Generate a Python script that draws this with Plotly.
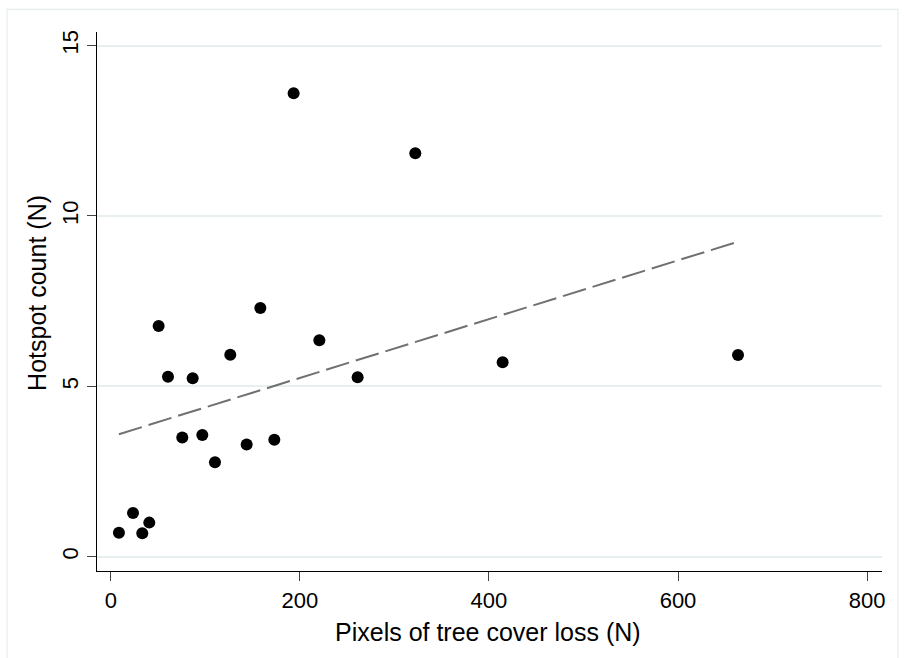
import numpy as np
import plotly.graph_objects as go

# Observations: pixels of tree cover loss vs. hotspot count
loss_pixels = [8.6, 23.5, 33.3, 40.7, 50.6, 60.5, 75.6, 86.6, 96.8, 110.2,
               126.4, 143.7, 158.2, 173.0, 193.4, 220.6, 261.1, 322.1, 414.5, 663.5]
hotspots = [0.70, 1.28, 0.69, 1.00, 6.77, 5.28, 3.50, 5.24, 3.57, 2.77,
            5.93, 3.29, 7.30, 3.43, 13.60, 6.35, 5.27, 11.84, 5.71, 5.92]

# Linear fit line (intercept, slope)
fit_intercept = 3.52
fit_slope = 0.00863

x_ticks = [0, 200, 400, 600, 800]
y_ticks = [0, 5, 10, 15]

x_title = "Pixels of tree cover loss (N)"
y_title = "Hotspot count (N)"

FONT = "Liberation Sans, Arial, Helvetica, sans-serif"

fit_x = np.array([min(loss_pixels), max(loss_pixels)])
fit_y = fit_intercept + fit_slope * fit_x

fig = go.Figure()
fig.add_trace(go.Scatter(
    x=fit_x, y=fit_y, mode="lines",
    line=dict(color="#707070", width=2, dash="24px,7px"),
    showlegend=False, hoverinfo="skip",
))
fig.add_trace(go.Scatter(
    x=loss_pixels, y=hotspots, mode="markers",
    marker=dict(color="black", size=12, line=dict(width=0)),
    showlegend=False,
))

fig.update_layout(
    width=904, height=658,
    margin=dict(l=97, r=22, t=32, b=87),
    paper_bgcolor="white", plot_bgcolor="white",
    font=dict(family=FONT, color="black", size=22),
    xaxis=dict(
        range=[-14.6, 815.8],
        tickmode="array", tickvals=x_ticks, ticktext=[str(v) for v in x_ticks],
        showgrid=False, zeroline=False,
        showline=True, linecolor="black", linewidth=1.3,
        ticks="outside", ticklen=9, tickwidth=1.3, tickcolor="#444444",
        tickfont=dict(size=22),
    ),
    yaxis=dict(
        range=[-0.42, 15.4],
        tickmode="array", tickvals=y_ticks, ticktext=[str(v) for v in y_ticks],
        showgrid=True, gridcolor="#e8eff1", gridwidth=1.5,
        zeroline=False,
        showline=True, linecolor="black", linewidth=1.3,
        ticks="outside", ticklen=9, tickwidth=1.3, tickcolor="#444444",
        tickangle=-90,
        tickfont=dict(size=22),
    ),
    annotations=[
        dict(text=x_title, xref="paper", yref="paper", x=0.4975, y=-0.113,
             xanchor="center", yanchor="middle", showarrow=False,
             font=dict(size=25)),
        dict(text=y_title, xref="paper", yref="paper", x=-0.0764, y=0.516,
             xanchor="center", yanchor="middle", showarrow=False, textangle=-90,
             font=dict(size=25)),
    ],
    shapes=[dict(
        type="rect", xref="paper", yref="paper",
        x0=-0.1146, x1=1.0204, y0=-0.2, y1=1.042,
        line=dict(color="#e4ecee", width=1.2), fillcolor="rgba(0,0,0,0)",
        layer="below",
    )],
)

fig.write_html("out.html")
